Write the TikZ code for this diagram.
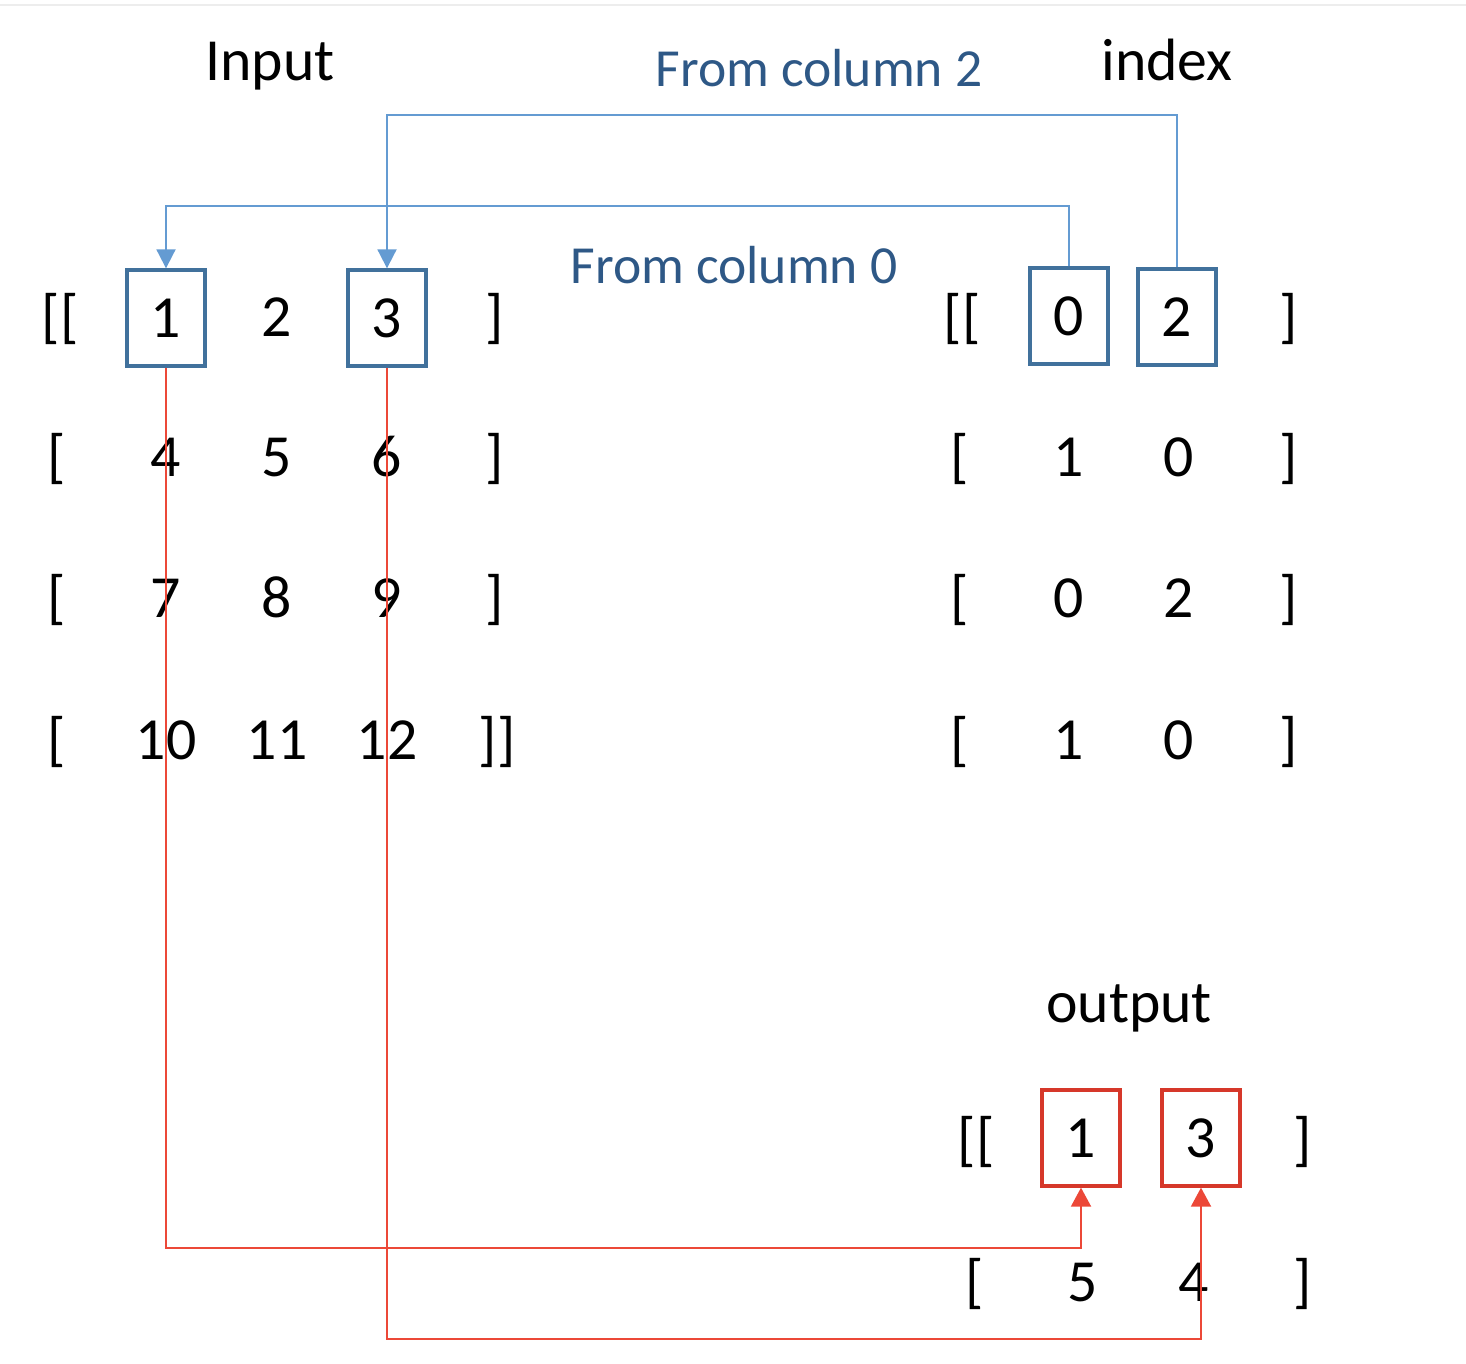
\documentclass[tikz,border=0pt]{standalone}
\usepackage{fontspec}
\setmainfont{Carlito}
\usetikzlibrary{arrows.meta}
\definecolor{boxblue}{RGB}{65,113,156}
\definecolor{lineblue}{RGB}{100,155,210}
\definecolor{textblue}{RGB}{46,88,134}
\definecolor{boxred}{RGB}{214,56,42}
\definecolor{linered}{RGB}{236,72,56}

\begin{document}
\begin{tikzpicture}[x=0.02cm,y=-0.02cm,
        cell/.style={font=\fontsize{34}{40}\selectfont, inner sep=0pt, text height=22pt, text depth=0pt},
        blue box/.style={cell, draw=boxblue, line width=1.9pt, minimum width=1.56cm, minimum height=1.92cm},
        red box/.style={cell, draw=boxred, line width=1.9pt, minimum width=1.56cm, minimum height=1.92cm},
        from label/.style={cell, font=\fontsize{30.5}{36}\selectfont, text=textblue},
        blue link/.style={draw=lineblue, line width=1.1pt, -{Triangle[width=0.38cm,length=0.38cm]}},
        red link/.style={draw=linered, line width=1.1pt, -{Triangle[width=0.4cm,length=0.38cm]}}]

    \useasboundingbox (0,0) rectangle (1466,1364);
    \draw[black!7, line width=1.5pt] (0,5) -- (1466,5);

    % titles
    \node[cell] (input) at (270,61) {Input};
    \node[cell] (index) at (1167,61) {index};
    \node[cell] (output) at (1129,1003) {output};
    \node[from label] (from2) at (819,67) {From column 2};
    \node[from label] (from0) at (734,264) {From column 0};

    % input array
    \node[cell] (inL1) at (60,317) {[[};
    \node[blue box] (in11) at (166,318) {1};
    \node[cell] (in12) at (277,317) {2};
    \node[blue box] (in13) at (387,318) {3};
    \node[cell] (inR1) at (495,317) {]};
    \node[cell] (inL2) at (57,457) {[};
    \node[cell] (in21) at (166,457) {4};
    \node[cell] (in22) at (277,457) {5};
    \node[cell] (in23) at (387,457) {6};
    \node[cell] (inR2) at (495,457) {]};
    \node[cell] (inL3) at (57,598) {[};
    \node[cell] (in31) at (166,598) {7};
    \node[cell] (in32) at (277,598) {8};
    \node[cell] (in33) at (387,598) {9};
    \node[cell] (inR3) at (495,598) {]};
    \node[cell] (inL4) at (57,740) {[};
    \node[cell] (in41) at (166,740) {10};
    \node[cell] (in42) at (277,740) {11};
    \node[cell] (in43) at (387,740) {12};
    \node[cell] (inR4) at (497,740) {]]};

    % index array
    \node[cell] (idxL1) at (962,317) {[[};
    \node[blue box] (idx11) at (1069,316) {0};
    \node[blue box] (idx12) at (1177,317) {2};
    \node[cell] (idxR1) at (1289,317) {]};
    \node[cell] (idxL2) at (960,457) {[};
    \node[cell] (idx21) at (1069,457) {1};
    \node[cell] (idx22) at (1179,457) {0};
    \node[cell] (idxR2) at (1289,457) {]};
    \node[cell] (idxL3) at (960,598) {[};
    \node[cell] (idx31) at (1069,598) {0};
    \node[cell] (idx32) at (1179,598) {2};
    \node[cell] (idxR3) at (1289,598) {]};
    \node[cell] (idxL4) at (960,740) {[};
    \node[cell] (idx41) at (1069,740) {1};
    \node[cell] (idx42) at (1179,740) {0};
    \node[cell] (idxR4) at (1289,740) {]};

    % output array
    \node[cell] (outL1) at (976,1140) {[[};
    \node[red box] (out11) at (1081,1138) {1};
    \node[red box] (out12) at (1201,1138) {3};
    \node[cell] (outR1) at (1303,1140) {]};
    \node[cell] (outL2) at (975,1282) {[};
    \node[cell] (out21) at (1083,1282) {5};
    \node[cell] (out22) at (1194,1282) {4};
    \node[cell] (outR2) at (1303,1282) {]};

    \path[blue link] (idx11.north) -- ++(0,-60) -| (in11.north);
    \path[blue link] (idx12.north) -- ++(0,-152) -| (in13.north);
    \path[red link] (in11.south) -- ++(0,880) -| (out11.south);
    \path[red link] (in13.south) -- ++(0,971) -| (out12.south);

\end{tikzpicture}
\end{document}
